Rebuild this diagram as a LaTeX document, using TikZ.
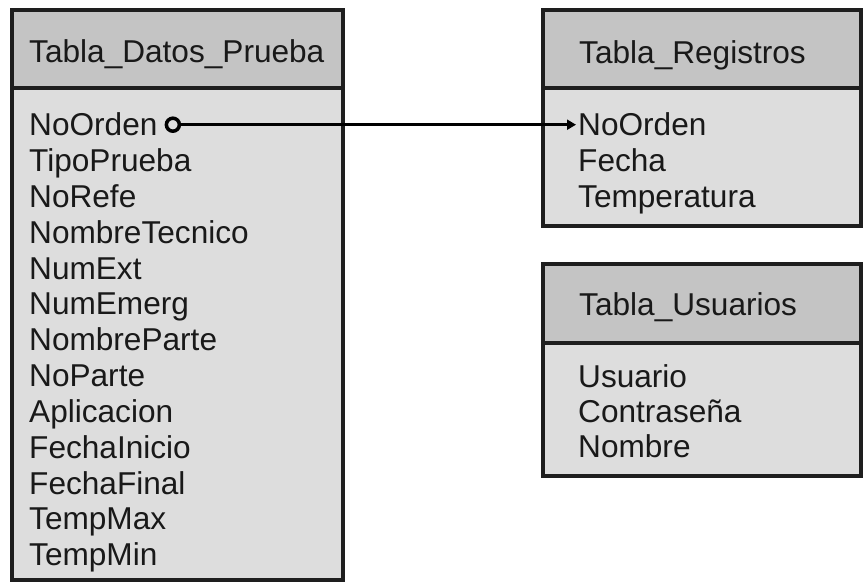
\documentclass[tikz,border=0pt]{standalone}
\usepackage{fontspec}
\setmainfont{Liberation Sans}
\usepackage{tikz}
\usetikzlibrary{arrows.meta,positioning}

\definecolor{hdrgray}{RGB}{196,196,196}
\definecolor{bdygray}{RGB}{221,221,221}
\definecolor{linegray}{RGB}{30,30,30}

\tikzset{
  frame/.style={draw=linegray,line width=4.5pt,fill=bdygray},
  hdrframe/.style={draw=linegray,line width=4.5pt,fill=hdrgray},
  field/.style={anchor=base west,inner xsep=0pt,inner ysep=1pt,text=black!90,
    font=\fontsize{31.6}{36}\selectfont},
  link/.style={draw=black,line width=3pt}
}

\begin{document}
\begin{tikzpicture}[x=1pt,y=-1pt]
\useasboundingbox (0,0) rectangle (863,585);

% Table frames
\draw[frame] (12,10) rectangle (343,580);
\draw[hdrframe] (12,10) rectangle (343,88);
\draw[frame] (543,10) rectangle (861,226);
\draw[hdrframe] (543,10) rectangle (861,88);
\draw[frame] (543,264) rectangle (861,476);
\draw[hdrframe] (543,264) rectangle (861,343);

% Headers
\node[field] (dpHead) at (29,63) {Tabla\_Datos\_Prueba};
\node[field] (regHead) at (579,64) {Tabla\_Registros};
\node[field] (usrHead) at (579,316) {Tabla\_Usuarios};

% Fields of Tabla_Datos_Prueba
\node[field] (dpOrden) at (29,136) {NoOrden};
\node[field] (dpTipo) at (29,171.8) {TipoPrueba};
\node[field] (dpRefe) at (29,207.6) {NoRefe};
\node[field] (dpTecnico) at (29,243.4) {NombreTecnico};
\node[field] (dpExt) at (29,279.2) {NumExt};
\node[field] (dpEmerg) at (29,315) {NumEmerg};
\node[field] (dpNomParte) at (29,350.8) {NombreParte};
\node[field] (dpNoParte) at (29,386.6) {NoParte};
\node[field] (dpAplic) at (29,422.4) {Aplicacion};
\node[field] (dpInicio) at (29,458.2) {FechaInicio};
\node[field] (dpFinal) at (29,494) {FechaFinal};
\node[field] (dpMax) at (29,529.8) {TempMax};
\node[field] (dpMin) at (29,565.6) {TempMin};

% Fields of Tabla_Registros
\node[field] (regOrden) at (578,136) {NoOrden};
\node[field] (regFecha) at (578,172) {Fecha};
\node[field] (regTemp) at (578,208) {Temperatura};

% Fields of Tabla_Usuarios
\node[field] (usrUsuario) at (578,388) {Usuario};
\node[field] (usrClave) at (578,423) {Contraseña};
\node[field] (usrNombre) at (578,458) {Nombre};

% Relation NoOrden -> NoOrden
\node[circle,draw=black,line width=3.5pt,fill=bdygray,inner sep=0pt,minimum size=13pt,
  right=7pt of dpOrden] (dot) {};
\draw[link,-{Triangle[length=9pt,width=10pt]},shorten >=2pt] (dot) -- (regOrden.west);
\end{tikzpicture}
\end{document}
